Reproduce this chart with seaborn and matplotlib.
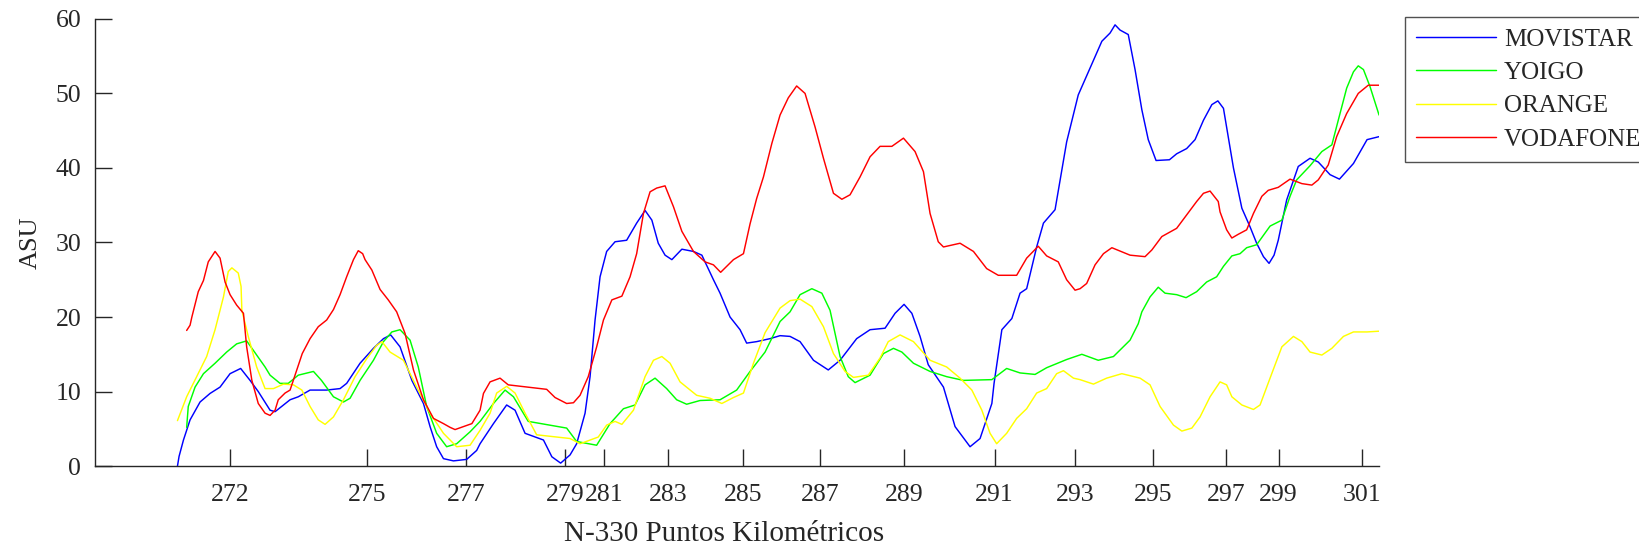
import pandas as pd
import matplotlib
matplotlib.use('Agg')
import matplotlib.pyplot as plt
import seaborn as sns

# x = indice de muestra a lo largo del recorrido, y = ASU
mov_x = [20.6, 21.0, 22.1, 23.75, 26.25, 28.75, 31.25, 33.75, 36.4, 38.75, 40.8, 43.75, 45, 47.1, 48.75, 50.8,
         53.75, 57.9, 61.25, 62.9, 66.25, 69.6, 72.1, 73.9, 76.25, 79.2, 82.1, 83.75, 85.4, 87.1, 89.6, 92.9,
         95.4, 96.25, 99.6, 102.9, 105, 107.5, 112.1, 114.2, 116.4, 118.75, 120.4, 122.5, 123.75, 125, 126.25,
         127.9, 130, 132.9, 135.4, 137.5, 139.2, 140.8, 142.5, 144.2, 146.7, 149.6, 151.7, 154.6, 156.25, 158.75,
         161.25, 162.9, 165.4, 168.75, 171.25, 173.75, 176.25, 179.6, 183.3, 186.25, 190.4, 193.75, 197.5, 200,
         202.25, 204.2, 206.25, 208.3, 212.1, 215, 218.75, 221.25, 224.2, 224.75, 226.7, 229.2, 231.25, 232.9,
         235.4, 237.1, 240, 242.9, 245.8, 248.75, 251.7, 253.75, 255, 256.25, 258.3, 260, 261.7, 263.3, 265.25,
         268.6, 270.4, 272.9, 275, 277.1, 279.2, 280.7, 282.1, 283.3, 284.6, 286.7, 288.75, 290.4, 292.1, 293.5,
         294.75, 295.8, 297.9, 300.8, 303.75, 305.8, 308.75, 311.1, 314.6, 318, 321]
mov_asu = [0.0, 1.3, 3.5, 6.2, 8.6, 9.75, 10.6, 12.4, 13.1, 11.5, 10.0, 7.5, 7.3, 8.2, 8.9, 9.3,
           10.2, 10.2, 10.4, 11.1, 13.8, 15.8, 17.1, 17.6, 16.0, 11.5, 8.4, 5.3, 2.6, 1.0, 0.7, 0.9,
           2.1, 3.0, 5.7, 8.2, 7.5, 4.4, 3.5, 1.25, 0.4, 1.5, 3.0, 7.1, 12.0, 19.6, 25.4,
           28.8, 30.1, 30.3, 32.6, 34.3, 33.0, 29.9, 28.3, 27.7, 29.1, 28.8, 28.3, 25.0, 23.2, 20.0,
           18.3, 16.5, 16.7, 17.1, 17.5, 17.4, 16.7, 14.2, 12.9, 14.2, 17.1, 18.3, 18.5, 20.5,
           21.7, 20.5, 17.4, 13.6, 10.6, 5.3, 2.6, 3.7, 8.4, 11.1, 18.3, 19.8, 23.2, 23.8,
           29.4, 32.6, 34.4, 43.5, 49.8, 53.4, 57.0, 58.1, 59.2, 58.5, 57.9, 53.2, 47.8, 43.8, 41.0,
           41.1, 41.9, 42.6, 43.8, 46.4, 48.5, 49.0, 48.0, 44.2, 40.0, 34.6, 32.1, 29.9, 28.1, 27.2,
           28.3, 30.3, 35.7, 40.2, 41.3, 40.8, 39.1, 38.5, 40.6, 43.8, 44.2]

yoi_x = [22.9, 23.3, 25, 27.1, 30, 32.9, 35.4, 37.9, 40.4, 42.5, 43.75, 46.25, 48.3, 50.8, 54.6, 56.6, 59.6,
         62.1, 63.75, 66.25, 69.6, 72.1, 74.2, 76.25, 78.75, 80.8, 82.9, 85.4, 87.9, 90.4, 93.75, 96.25, 99.6,
         102.5, 104.6, 108.3, 117.9, 120.4, 125.4, 128.75, 132.1, 135, 137.5, 140, 142.9, 145.4, 147.9, 151.25,
         156.25, 160.4, 163.75, 167.5, 171.25, 173.75, 176.25, 179.2, 181.7, 183.75, 186.25, 188.3, 190, 193.75,
         197.1, 199.6, 201.7, 204.6, 208.75, 212.9, 217.1, 224.2, 227.9, 231.25, 235, 237.9, 242.9, 246.7, 250.8,
         254.6, 258.75, 260.8, 261.7, 263.75, 265.8, 267.5, 270.4, 272.75, 275.4, 277.9, 280.4, 282.1, 284.2,
         286.25, 287.9, 290.4, 293.75, 296.7, 298.75, 300.4, 303.75, 306.7, 309.2, 310.8, 312.9, 314.6, 315.8,
         317.1, 318.75, 321]
yoi_asu = [5.2, 8.0, 10.6, 12.4, 13.8, 15.3, 16.4, 16.8, 14.9, 13.3, 12.2, 11.1, 11.1, 12.2, 12.7, 11.5, 9.3,
           8.6, 9.1, 11.5, 14.2, 16.7, 18.0, 18.3, 16.9, 13.3, 8.0, 4.4, 2.6, 3.0, 4.6, 6.0, 8.4,
           10.2, 9.3, 6.0, 5.1, 3.3, 2.8, 5.7, 7.7, 8.2, 10.9, 11.8, 10.4, 8.9, 8.3, 8.8,
           8.9, 10.2, 12.7, 15.3, 19.4, 20.7, 23.0, 23.8, 23.2, 20.9, 14.7, 12.0, 11.2, 12.2,
           15.1, 15.8, 15.3, 13.8, 12.7, 12.0, 11.5, 11.6, 13.1, 12.5, 12.3, 13.2, 14.3, 15.0, 14.2,
           14.7, 16.9, 19.1, 20.7, 22.7, 24.0, 23.2, 23.0, 22.6, 23.4, 24.7, 25.4, 26.8, 28.2,
           28.5, 29.3, 29.7, 32.2, 33.0, 36.2, 38.4, 40.3, 42.2, 43.1, 46.4, 50.7, 52.9, 53.7,
           53.2, 50.9, 47.1]

ora_x = [20.6, 22.9, 25.4, 27.9, 30, 32.1, 33.3, 34.2, 35.8, 36.5, 36.7, 38.3, 40.4, 42.5, 44.6, 47.1, 49.6,
         51.7, 53.75, 55.8, 57.5, 59.6, 62.1, 65, 67.9, 70.4, 71.7, 73.75, 77.1, 80.4, 83.75, 87.1, 90.4, 93.75,
         96.25, 98.75, 100.4, 102.9, 105, 107.5, 110.4, 118.75, 121.25, 125.8, 127.9, 130, 131.7, 134.6, 137.5,
         139.6, 141.7, 143.75, 146.25, 150.4, 153.75, 156.7, 159.6, 162.1, 164.6, 167.5, 171.25, 173.75, 176.25,
         179.2, 182.1, 184.6, 187.5, 189.6, 193.3, 196.25, 198.3, 201.25, 204.6, 208.75, 212.9, 216.25, 219.2,
         221.7, 223.75, 225.4, 227.9, 230.4, 232.9, 235.4, 237.9, 240.4, 242.1, 244.6, 246.25, 249.6, 252.9,
         256.7, 261.25, 263.75, 266.25, 269.6, 271.7, 274.2, 276.25, 278.75, 281.25, 282.9, 284.2, 286.7,
         289.6, 291.25, 293.75, 296.7, 299.6, 301.7, 303.75, 306.7, 309.2, 312.1, 314.6, 318, 321]
ora_asu = [6.1, 9.3, 12.0, 14.7, 18.3, 22.7, 26.1, 26.6, 25.9, 24.1, 20.9, 17.4, 13.3, 10.4, 10.4, 11.0, 10.9,
           10.2, 8.0, 6.2, 5.6, 6.6, 8.9, 12.0, 14.4, 16.2, 16.7, 15.3, 14.2, 10.6, 7.1, 4.4, 2.6, 2.8,
           4.8, 7.1, 9.8, 10.7, 9.8, 7.1, 4.2, 3.7, 3.0, 3.9, 5.5, 6.0, 5.6, 7.5, 12.0,
           14.2, 14.7, 13.8, 11.3, 9.5, 9.1, 8.4, 9.2, 9.8, 13.8, 17.9, 21.2, 22.2, 22.4,
           21.4, 18.7, 15.1, 12.7, 11.9, 12.2, 14.5, 16.7, 17.6, 16.7, 14.2, 13.3, 11.8, 10.2,
           7.5, 4.4, 3.0, 4.4, 6.4, 7.7, 9.8, 10.4, 12.4, 12.8, 11.8, 11.6, 11.0, 11.8,
           12.4, 11.8, 10.9, 8.0, 5.5, 4.7, 5.1, 6.6, 9.3, 11.3, 10.9, 9.3, 8.2,
           7.6, 8.2, 11.8, 16.0, 17.4, 16.7, 15.3, 14.9, 15.8, 17.4, 18.0, 18.0, 18.1]

vod_x = [22.9, 23.75, 24.2, 25.8, 27.1, 28.3, 30, 31.25, 32.5, 33.75, 35.4, 37.1, 37.9, 39.2, 40.8, 42.5,
         43.75, 45, 45.8, 47.5, 48.75, 50, 51.8, 53.75, 55.8, 57.9, 59.6, 61.25, 62.9, 64.6, 65.8, 66.9, 67.5,
         69.2, 71.25, 73.3, 75.4, 77.5, 79.6, 82.1, 84.6, 87.1, 88.75, 90, 92.1, 94.2, 96.25, 97.1, 98.75,
         101.25, 103.3, 112.9, 115, 117.9, 119.6, 121.25, 123.3, 125.4, 127.1, 129.2, 131.7, 133.75, 135.4,
         137.1, 138.75, 140.4, 142.5, 144.6, 146.7, 149.6, 152.5, 154.6, 156.4, 159.6, 162.1, 163.75, 165.4,
         167.1, 169.2, 171.25, 173.3, 175.4, 177.5, 180, 182.1, 184.6, 186.7, 188.75, 191.25, 193.75, 196.25,
         199.2, 202.1, 205, 207.1, 208.75, 210.8, 212.1, 216.25, 219.6, 222.9, 225.8, 230.4, 232.9, 235.8,
         237.9, 240.8, 242.9, 245, 246.25, 247.9, 250, 252.1, 254.2, 258.75, 262.5, 264.2, 266.7, 270.4,
         272.9, 275.4, 277.1, 278.75, 280.8, 281.25, 282.9, 284.2, 285.8, 287.9, 289.6, 291.7, 293.3, 295.8,
         298.75, 301.7, 304.2, 305.8, 308.3, 310.4, 312.9, 315.8, 318.3, 321]
vod_asu = [18.2, 18.9, 20.0, 23.4, 24.9, 27.4, 28.8, 27.9, 24.7, 23.0, 21.6, 20.5, 16.0, 11.5, 8.4, 7.1,
           6.8, 7.5, 8.9, 9.8, 10.2, 12.2, 15.1, 17.1, 18.7, 19.6, 21.0, 23.0, 25.4, 27.7, 28.9, 28.5, 27.7,
           26.3, 23.7, 22.3, 20.7, 17.8, 12.9, 8.9, 6.4, 5.7, 5.2, 4.9, 5.3, 5.7, 7.5, 9.75, 11.3,
           11.8, 10.9, 10.3, 9.2, 8.4, 8.5, 9.5, 12.0, 16.0, 19.6, 22.3, 22.8, 25.4, 28.5,
           33.9, 36.8, 37.3, 37.6, 34.8, 31.5, 28.8, 27.4, 27.0, 26.0, 27.7, 28.5, 32.5, 35.9,
           38.8, 43.3, 47.1, 49.4, 51.0, 50.0, 45.5, 41.3, 36.6, 35.8, 36.4, 38.8, 41.5, 42.9,
           42.9, 44.0, 42.2, 39.5, 33.9, 30.1, 29.4, 29.9, 28.8, 26.5, 25.6, 25.6, 27.9, 29.5,
           28.2, 27.4, 25.0, 23.6, 23.8, 24.5, 27.0, 28.5, 29.3, 28.3, 28.1, 29.0, 30.8, 31.9,
           33.7, 35.5, 36.6, 36.9, 35.5, 34.1, 31.7, 30.6, 31.1, 31.7, 33.9, 36.2, 37.0, 37.4,
           38.5, 37.9, 37.7, 38.4, 40.4, 44.2, 47.3, 50.0, 51.1, 51.1]

operadores = ['MOVISTAR', 'YOIGO', 'ORANGE', 'VODAFONE']
colores = ['#0000ff', '#00ff00', '#ffff00', '#ff0000']

tick_pos = [33.75, 68.1, 92.75, 117.5, 127.3, 143.3, 162.1, 181.3, 202.2, 224.9, 245, 264.6, 282.7, 295.9, 316.65]
tick_lab = ['272', '275', '277', '279', '281', '283', '285', '287', '289', '291', '293', '295', '297', '299', '301']

series = [(mov_x, mov_asu), (yoi_x, yoi_asu), (ora_x, ora_asu), (vod_x, vod_asu)]
df = pd.concat([pd.DataFrame({'muestra': x, 'asu': y, 'operador': op})
                for (x, y), op in zip(series, operadores)], ignore_index=True)

sns.set_style('ticks')
plt.rcParams['font.family'] = ['Liberation Serif', 'DejaVu Serif']
gris = '#262626'
plt.rcParams['axes.edgecolor'] = gris
plt.rcParams['xtick.color'] = gris
plt.rcParams['ytick.color'] = gris
plt.rcParams['text.color'] = gris
plt.rcParams['axes.labelcolor'] = gris

fig = plt.figure(figsize=(16.39, 5.49), dpi=100)
ax = fig.add_axes([0.058, 0.151, 0.7834, 0.8146])

sns.lineplot(data=df, x='muestra', y='asu', hue='operador', hue_order=operadores,
             palette=colores, estimator=None, sort=False, linewidth=1.05, ax=ax)

ax.set_xlim(0, 321)
ax.set_ylim(0, 60)
ax.set_xticks(tick_pos)
ax.set_xticklabels(tick_lab)
ax.set_yticks([0, 10, 20, 30, 40, 50, 60])
ax.tick_params(direction='in', length=12, width=1, labelsize=18.5)
ax.tick_params(axis='y', pad=10)
ax.tick_params(axis='x', pad=13)
ax.set_xlabel('N-330 Puntos Kilométricos', fontsize=21, labelpad=11)
ax.xaxis.label.set_x(0.49)
ax.set_ylabel('ASU', fontsize=19, labelpad=10)
sns.despine(ax=ax)
for s in ['left', 'bottom']:
    ax.spines[s].set_linewidth(1.0)

handles, labels = ax.get_legend_handles_labels()
leg = ax.legend(handles, labels, loc='upper left', bbox_to_anchor=(1405 / 1639, 1 - 17 / 549),
                bbox_transform=fig.transFigure, borderaxespad=0, fontsize=18, frameon=True,
                fancybox=False, edgecolor=gris, handlelength=3.2, handletextpad=0.3,
                labelspacing=0.43, borderpad=0.45)
leg.get_frame().set_linewidth(1.0)

fig.savefig('out.png', dpi=100)
